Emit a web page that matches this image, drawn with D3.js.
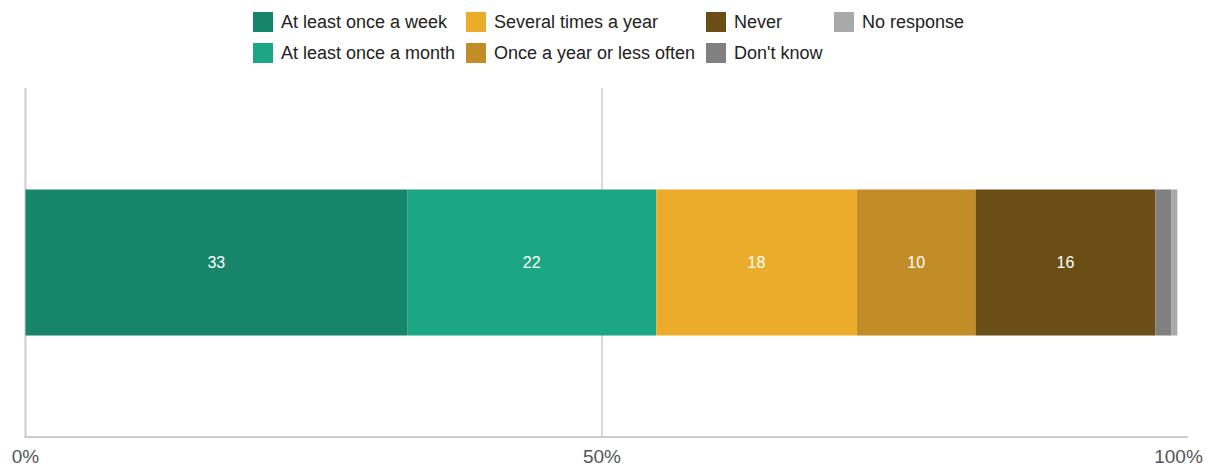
<!DOCTYPE html>
<html><head><meta charset="utf-8">
<script src="https://cdn.jsdelivr.net/npm/d3@7"></script>
<style>body{margin:0;background:#fff;font-family:Arial,"Liberation Sans",sans-serif;}</style>
</head><body><svg id="c" width="1207" height="466"></svg>
<script>
const categories = ["At least once a week","At least once a month","Several times a year","Once a year or less often","Never","Don't know","No response"];
const values = [33.1, 21.6, 17.4, 10.3, 15.6, 1.4, 0.5];
const labels = ["33","22","18","10","16","",""];
const colors = ["#178569","#1da683","#ecac2b","#c28d27","#6b4d16","#808080","#a9a9a9"];
const ticks = [0, 50, 100];
const tickLabels = ["0%","50%","100%"];

(function(){
const svg = d3.select("#c");
const pLeft = 25.5, pRight = 1178.5, pTop = 88, pBottom = 437;
const x = d3.scaleLinear().domain([0,100]).range([pLeft,pRight]);
const y = d3.scaleBand().domain(["row"]).range([pTop,pBottom]).paddingInner(0).paddingOuter(0.695);

// grid
svg.append("g").selectAll("line").data(ticks.filter(t=>t>0 && t<100)).join("line")
  .attr("x1",d=>x(d)).attr("x2",d=>x(d)).attr("y1",pTop).attr("y2",pBottom)
  .attr("stroke","#cccccc").attr("stroke-width",1.5);
svg.append("line").attr("x1",pLeft).attr("x2",pLeft).attr("y1",pTop).attr("y2",pBottom)
  .attr("stroke","#cccccc").attr("stroke-width",2);

// bars
let cum = 0;
const segs = values.map((v,i)=>{const s={i,v,x0:cum,x1:cum+v}; cum+=v; return s;});
const g = svg.append("g");
g.selectAll("rect").data(segs).join("rect")
  .attr("x",d=>x(d.x0)).attr("width",d=>x(d.x1)-x(d.x0))
  .attr("y",y("row")).attr("height",y.bandwidth())
  .attr("fill",d=>colors[d.i]);
g.selectAll("text").data(segs.filter(d=>labels[d.i])).join("text")
  .attr("x",d=>(x(d.x0)+x(d.x1))/2).attr("y",y("row")+y.bandwidth()/2)
  .attr("dy","0.35em").attr("text-anchor","middle").attr("fill","#fff")
  .attr("font-size",16).text(d=>labels[d.i]);

// x axis
svg.append("line").attr("x1",pLeft-1).attr("x2",1188).attr("y1",pBottom).attr("y2",pBottom)
  .attr("stroke","#cccccc").attr("stroke-width",2);
svg.append("g").selectAll("text").data(ticks).join("text")
  .attr("x",d=>x(d)).attr("y",463).attr("text-anchor","middle")
  .attr("fill","#555").attr("font-size",19).text((d,i)=>tickLabels[i]);

// legend
const legX = [253, 466, 706, 834];
const order = [[0,0],[0,1],[1,0],[1,1],[2,0],[2,1],[3,0]];
const items = categories.map((c,i)=>({c,i,col:order[i][0],row:order[i][1]}));
const li = svg.append("g").selectAll("g").data(items).join("g")
  .attr("transform",d=>`translate(${legX[d.col]},${12+d.row*31})`);
li.append("rect").attr("width",20).attr("height",20).attr("fill",d=>colors[d.i]);
li.append("text").attr("x",28).attr("y",10).attr("dy","0.35em").attr("font-size",18)
  .attr("fill","#222").text(d=>d.c);
})();
</script></body></html>
